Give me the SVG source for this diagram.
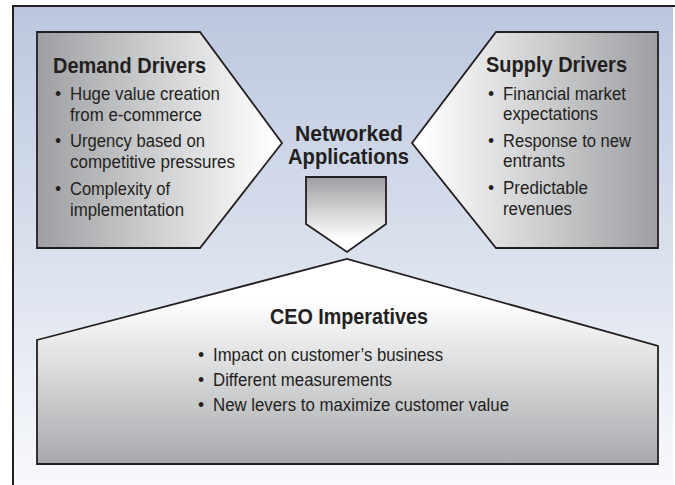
<svg xmlns="http://www.w3.org/2000/svg" width="675" height="485" viewBox="0 0 675 485">
  <defs>
    <linearGradient id="bg" x1="0" y1="0" x2="0" y2="1">
      <stop offset="0" stop-color="#bac7de"/>
      <stop offset="1" stop-color="#f8f9fc"/>
    </linearGradient>
    <linearGradient id="gradLeft" gradientUnits="userSpaceOnUse" x1="37" y1="0" x2="275" y2="0">
      <stop offset="0" stop-color="#9d9fa2"/>
      <stop offset="1" stop-color="#ffffff"/>
    </linearGradient>
    <linearGradient id="gradRight" gradientUnits="userSpaceOnUse" x1="420" y1="0" x2="658" y2="0">
      <stop offset="0" stop-color="#ffffff"/>
      <stop offset="1" stop-color="#9d9fa2"/>
    </linearGradient>
    <linearGradient id="gradDown" gradientUnits="userSpaceOnUse" x1="0" y1="177" x2="0" y2="240">
      <stop offset="0" stop-color="#9d9fa2"/>
      <stop offset="1" stop-color="#ffffff"/>
    </linearGradient>
    <linearGradient id="gradCeo" gradientUnits="userSpaceOnUse" x1="0" y1="300" x2="0" y2="464">
      <stop offset="0" stop-color="#ffffff"/>
      <stop offset="1" stop-color="#a7a9ac"/>
    </linearGradient>
  </defs>
  <style>
    .shape { stroke: #231f20; stroke-width: 1.8; stroke-linejoin: miter; }
    .frame { stroke: #231f20; stroke-width: 2; fill: none; }
    text { font-family: "Liberation Sans", Arial, sans-serif; fill: #231f20; }
    .head { font-size: 21.5px; font-weight: bold; }
    .big { font-size: 21.5px; font-weight: bold; }
    .item { font-size: 17.5px; }
  </style>

  <!-- backdrop and frame -->
  <g id="backdrop">
    <rect x="13" y="6" width="660" height="479" fill="url(#bg)"/>
    <path class="frame" d="M13 485 V6 H675"/>
  </g>

  <!-- left pentagon -->
  <g id="node-demand">
    <polygon class="shape" points="37,32 200,32 282,143 200,248 37,248" fill="url(#gradLeft)"/>
    <text class="head" x="53" y="73" textLength="153" lengthAdjust="spacingAndGlyphs">Demand Drivers</text>
    <text class="item" x="55" y="100">•</text>
    <text class="item" x="70" y="100" textLength="150" lengthAdjust="spacingAndGlyphs">Huge value creation</text>
    <text class="item" x="70" y="121" textLength="132" lengthAdjust="spacingAndGlyphs">from e-commerce</text>
    <text class="item" x="55" y="147">•</text>
    <text class="item" x="70" y="147" textLength="135" lengthAdjust="spacingAndGlyphs">Urgency based on</text>
    <text class="item" x="70" y="168" textLength="165" lengthAdjust="spacingAndGlyphs">competitive pressures</text>
    <text class="item" x="55" y="195">•</text>
    <text class="item" x="70" y="195" textLength="100" lengthAdjust="spacingAndGlyphs">Complexity of</text>
    <text class="item" x="70" y="216" textLength="114" lengthAdjust="spacingAndGlyphs">implementation</text>
  </g>

  <!-- right pentagon -->
  <g id="node-supply">
    <polygon class="shape" points="496,32 658,32 658,248 496,248 412,143" fill="url(#gradRight)"/>
    <text class="head" x="486" y="72" textLength="141" lengthAdjust="spacingAndGlyphs">Supply Drivers</text>
    <text class="item" x="488" y="100">•</text>
    <text class="item" x="503" y="100" textLength="123" lengthAdjust="spacingAndGlyphs">Financial market</text>
    <text class="item" x="503" y="120" textLength="95" lengthAdjust="spacingAndGlyphs">expectations</text>
    <text class="item" x="488" y="147">•</text>
    <text class="item" x="503" y="147" textLength="128" lengthAdjust="spacingAndGlyphs">Response to new</text>
    <text class="item" x="503" y="167" textLength="62" lengthAdjust="spacingAndGlyphs">entrants</text>
    <text class="item" x="488" y="194">•</text>
    <text class="item" x="503" y="194" textLength="85" lengthAdjust="spacingAndGlyphs">Predictable</text>
    <text class="item" x="503" y="215" textLength="69" lengthAdjust="spacingAndGlyphs">revenues</text>
  </g>

  <!-- centre label with downward pointer -->
  <g id="node-networked">
    <text class="big" x="295" y="141" textLength="108" lengthAdjust="spacingAndGlyphs">Networked</text>
    <text class="big" x="288" y="164" textLength="121" lengthAdjust="spacingAndGlyphs">Applications</text>
    <polygon class="shape" points="306,177 386,177 386,224 347,252 306,224" fill="url(#gradDown)"/>
  </g>

  <!-- bottom house shape -->
  <g id="node-ceo">
    <polygon class="shape" points="37,340 347,259 658,346 658,464 37,464" fill="url(#gradCeo)"/>
    <text class="big" x="270" y="324" textLength="158" lengthAdjust="spacingAndGlyphs">CEO Imperatives</text>
    <text class="item" x="198" y="361">•</text>
    <text class="item" x="213" y="361" textLength="230" lengthAdjust="spacingAndGlyphs">Impact on customer’s business</text>
    <text class="item" x="198" y="386">•</text>
    <text class="item" x="213" y="386" textLength="179" lengthAdjust="spacingAndGlyphs">Different measurements</text>
    <text class="item" x="198" y="411">•</text>
    <text class="item" x="213" y="411" textLength="296" lengthAdjust="spacingAndGlyphs">New levers to maximize customer value</text>
  </g>
</svg>
